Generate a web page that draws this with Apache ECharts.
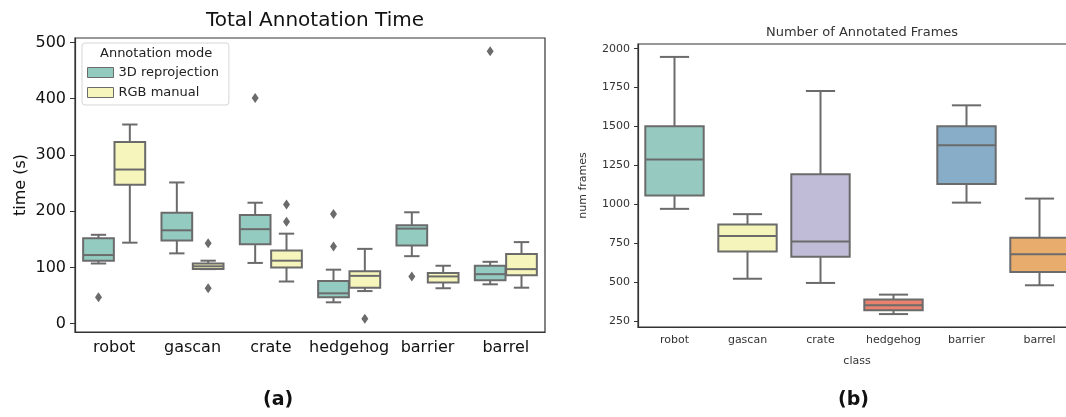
<!DOCTYPE html>
<html>
<head>
<meta charset="utf-8">
<script src="https://cdn.jsdelivr.net/npm/echarts@6/dist/echarts.min.js"></script>
<style>
  html, body { margin: 0; padding: 0; background: #fff; }
  #main { width: 1066px; height: 417px; }
</style>
</head>
<body>
<div id="main"></div>
<script>
const classes = ['robot', 'gascan', 'crate', 'hedgehog', 'barrier', 'barrel'];
const modes = ['3D reprojection', 'RGB manual'];

// box stats per class: [low whisker, Q1, median, Q3, high whisker]
const time3D = [[107, 112, 122, 152, 158], [125, 148, 166, 197, 251], [108, 141, 168, 193, 215],
                [38, 47, 54, 76, 96], [120, 139, 169, 175, 198], [70, 77, 88, 103, 110]];
const timeRGB = [[144, 247, 274, 323, 354], [97, 97, 102, 107, 112], [75, 100, 112, 130, 160],
                 [58, 64, 85, 93, 133], [63, 73, 84, 90, 103], [64, 86, 97, 124, 145]];
// outliers: [class index, value]
const outliers3D = [[0, 47], [2, 401], [3, 137], [3, 195], [4, 84], [5, 484]];
const outliersRGB = [[1, 143], [1, 63], [2, 181], [2, 212], [3, 9]];
const timeTicks = [0, 100, 200, 300, 400, 500];

const frames = [[971, 1056, 1288, 1502, 1947], [522, 697, 797, 871, 937], [495, 663, 762, 1194, 1728],
                [295, 320, 352, 388, 420], [1011, 1130, 1379, 1502, 1636], [480, 565, 680, 786, 1037]];
const frameTicks = [250, 500, 750, 1000, 1250, 1500, 1750, 2000];

const modeColors = ['#93cbc0', '#f6f5bb'];
const classColors = ['#96cac0', '#f4f4bb', '#c0bcd7', '#e8826f', '#87adc9', '#e8ad6c'];
const edge = '#6b6b6b';

// seaborn style box: whiskers with half-width caps, filled box, median line
function boxRenderer(offset, width, lw) {
  return function (params, api) {
    const c = api.value(0);
    const band = api.size([1, 0])[0];
    const x = api.coord([c, 0])[0] + offset * band;
    const w = width * band;
    const y = i => api.coord([c, api.value(i)])[1];
    const yLow = y(1), yQ1 = y(2), yMed = y(3), yQ3 = y(4), yHigh = y(5);
    const line = { stroke: edge, lineWidth: lw };
    return {
      type: 'group',
      children: [
        { type: 'line', shape: { x1: x, y1: yQ3, x2: x, y2: yHigh }, style: line },
        { type: 'line', shape: { x1: x, y1: yQ1, x2: x, y2: yLow }, style: line },
        { type: 'line', shape: { x1: x - w / 4, y1: yHigh, x2: x + w / 4, y2: yHigh }, style: line },
        { type: 'line', shape: { x1: x - w / 4, y1: yLow, x2: x + w / 4, y2: yLow }, style: line },
        { type: 'rect', shape: { x: x - w / 2, y: yQ3, width: w, height: yQ1 - yQ3 },
          style: { fill: api.visual('color'), stroke: edge, lineWidth: lw } },
        { type: 'line', shape: { x1: x - w / 2, y1: yMed, x2: x + w / 2, y2: yMed }, style: line }
      ]
    };
  };
}

function outlierRenderer(offset) {
  return function (params, api) {
    const p = api.coord([api.value(0), api.value(1)]);
    const x = p[0] + offset * api.size([1, 0])[0];
    return {
      type: 'polygon',
      shape: { points: [[x, p[1] - 5], [x + 3.5, p[1]], [x, p[1] + 5], [x - 3.5, p[1]]] },
      style: { fill: edge }
    };
  };
}

const withIndex = (rows) => rows.map((r, i) => [i].concat(r));

let myChart = echarts.init(document.getElementById('main'));
let option = {
  backgroundColor: '#fff',
  animation: false,
  textStyle: { fontFamily: 'DejaVu Sans' },
  title: [
    { text: 'Total Annotation Time', left: 310, top: 6, textAlign: 'center',
      textStyle: { fontSize: 20, fontWeight: 'normal', color: '#111' } },
    { text: 'Number of Annotated Frames', left: 857, top: 21, textAlign: 'center',
      textStyle: { fontSize: 13, fontWeight: 'normal', color: '#333' } }
  ],
  legend: {
    orient: 'vertical',
    left: 82, top: 43,
    padding: [23, 10, 6, 5],
    backgroundColor: '#fff',
    borderColor: '#d6d6d6',
    borderWidth: 1,
    borderRadius: 3,
    icon: 'rect',
    itemWidth: 26, itemHeight: 10,
    itemGap: 7,
    textStyle: { fontSize: 13, color: '#222' },
    data: modes.map((m, i) => ({ name: m, itemStyle: { color: modeColors[i], borderColor: edge, borderWidth: 1 } }))
  },
  graphic: [
    { type: 'text', z: 100, left: 100, top: 47, style: { text: 'Annotation mode', fontSize: 13, fill: '#222', fontFamily: 'DejaVu Sans' } },
    { type: 'text', z: 100, left: 263, top: 391, style: { text: '(a)', fontSize: 19, fontWeight: 'bold', fill: '#111', fontFamily: 'DejaVu Sans' } },
    { type: 'text', z: 100, left: 838, top: 391, style: { text: '(b)', fontSize: 19, fontWeight: 'bold', fill: '#111', fontFamily: 'DejaVu Sans' } }
  ],
  grid: [
    { left: 75, width: 470, top: 38, bottom: 85, outerBoundsMode: 'none',
      show: true, borderColor: '#333', borderWidth: 1.2, backgroundColor: '#fff' },
    { left: 638, width: 438, top: 44, bottom: 90, outerBoundsMode: 'none',
      show: true, borderColor: '#333', borderWidth: 1.2, backgroundColor: '#fff' }
  ],
  xAxis: [
    {
      type: 'category', gridIndex: 0, data: classes,
      axisLine: { onZero: false, lineStyle: { color: '#333', width: 1.2 } },
      axisTick: { alignWithLabel: true, length: 5, lineStyle: { color: '#333' } },
      axisLabel: { interval: 0, fontSize: 16, color: '#111', margin: 8 },
      splitLine: { show: false }
    },
    {
      type: 'category', gridIndex: 1, data: classes,
      name: 'class', nameLocation: 'middle', nameGap: 29,
      nameTextStyle: { fontSize: 11, color: '#333' },
      axisLine: { onZero: false, lineStyle: { color: '#333', width: 1.2 } },
      axisTick: { alignWithLabel: true, length: 4, lineStyle: { color: '#333' } },
      axisLabel: { interval: 0, fontSize: 11, color: '#333', margin: 8 },
      splitLine: { show: false }
    }
  ],
  yAxis: [
    {
      type: 'value', gridIndex: 0, min: -14.75, max: 507.75,
      name: 'time (s)', nameLocation: 'middle', nameGap: 46,
      nameTextStyle: { fontSize: 16, color: '#111' },
      axisLine: { show: true, lineStyle: { color: '#333', width: 1.2 } },
      axisTick: { show: true, length: 5, customValues: timeTicks, lineStyle: { color: '#333' } },
      axisLabel: { fontSize: 16, color: '#111', margin: 9, customValues: timeTicks, formatter: v => String(v) },
      splitLine: { show: false }
    },
    {
      type: 'value', gridIndex: 1, min: 212, max: 2030,
      name: 'num frames', nameLocation: 'middle', nameGap: 49,
      nameTextStyle: { fontSize: 11, color: '#333' },
      axisLine: { show: true, lineStyle: { color: '#333', width: 1.2 } },
      axisTick: { show: true, length: 4, customValues: frameTicks, lineStyle: { color: '#333' } },
      axisLabel: { fontSize: 11, color: '#333', margin: 8, customValues: frameTicks, formatter: v => String(v) },
      splitLine: { show: false }
    }
  ],
  series: [
    {
      name: modes[0], type: 'custom', xAxisIndex: 0, yAxisIndex: 0,
      itemStyle: { color: modeColors[0] },
      renderItem: boxRenderer(-0.2, 0.392, 2),
      encode: { x: 0, y: [1, 2, 3, 4, 5] },
      data: withIndex(time3D)
    },
    {
      name: modes[1], type: 'custom', xAxisIndex: 0, yAxisIndex: 0,
      itemStyle: { color: modeColors[1] },
      renderItem: boxRenderer(0.2, 0.392, 2),
      encode: { x: 0, y: [1, 2, 3, 4, 5] },
      data: withIndex(timeRGB)
    },
    {
      name: modes[0], type: 'custom', xAxisIndex: 0, yAxisIndex: 0,
      itemStyle: { color: edge },
      renderItem: outlierRenderer(-0.2),
      encode: { x: 0, y: 1 },
      data: outliers3D
    },
    {
      name: modes[1], type: 'custom', xAxisIndex: 0, yAxisIndex: 0,
      itemStyle: { color: edge },
      renderItem: outlierRenderer(0.2),
      encode: { x: 0, y: 1 },
      data: outliersRGB
    },
    {
      name: 'frames', type: 'custom', xAxisIndex: 1, yAxisIndex: 1,
      renderItem: boxRenderer(0, 0.8, 2),
      encode: { x: 0, y: [1, 2, 3, 4, 5] },
      data: withIndex(frames).map((v, i) => ({ value: v, itemStyle: { color: classColors[i] } }))
    }
  ]
};
myChart.setOption(option);
</script>
</body>
</html>
